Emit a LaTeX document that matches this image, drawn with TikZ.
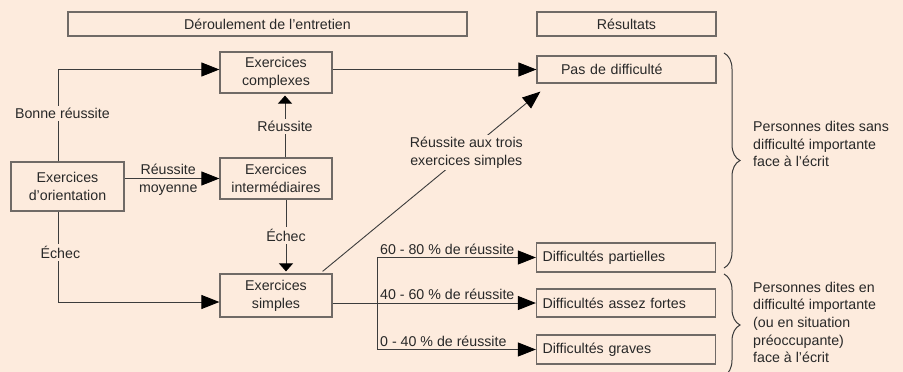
\documentclass[tikz,border=0pt]{standalone}
\usepackage{fontspec}
\setmainfont{Liberation Sans}
\usetikzlibrary{arrows.meta,calc,decorations.pathreplacing}
\definecolor{bgpeach}{RGB}{253,235,221}
\definecolor{boxgray}{RGB}{112,106,102}
\definecolor{linegray}{RGB}{60,60,60}
\definecolor{txtgray}{RGB}{40,40,40}
\newcommand{\diagfont}{\fontsize{14.2pt}{17.7pt}\selectfont}
\tikzset{
  every node/.style={font=\diagfont, text=txtgray},
  hdr/.style={draw=boxgray, line width=1.2pt, minimum height=24pt, inner sep=0pt},
  exbox/.style={draw=boxgray, line width=1.2pt, minimum width=112pt, minimum height=41pt, align=center, inner sep=0pt},
  resbox/.style={draw=boxgray, line width=1.2pt, minimum height=28pt, text width=167pt, inner xsep=6pt, inner ysep=0pt, align=left},
  lbl/.style={fill=bgpeach, inner sep=2pt},
  pct/.style={anchor=south west, inner sep=3pt},
  side/.style={anchor=west, align=left, inner sep=0pt},
  arr/.style={draw=linegray, line width=0.9pt, -{Triangle[length=18pt,width=14pt,color=black]}},
  arrshort/.style={draw=linegray, line width=0.9pt, -{Triangle[length=8pt,width=14pt,color=black]}},
  brc/.style={draw=linegray, line width=1pt, decorate, decoration={brace, amplitude=16pt}}
}
\begin{document}
\begin{tikzpicture}[x=1pt, y=-1pt]
  \fill[bgpeach] (0,0) rectangle (903,372);
  \useasboundingbox (0,0) rectangle (903,372);

  % headers
  \node[hdr, minimum width=399pt] (deroul) at (267.5,24) {Déroulement de l'entretien};
  \node[hdr, minimum width=179pt] (result) at (626.5,24) {Résultats};

  % exercises
  \node[exbox] (complexes) at (276,72.5) {Exercices\\complexes};
  \node[exbox] (inter) at (276,178.5) {Exercices\\intermédiaires};
  \node[exbox, minimum width=113pt, minimum height=49pt] (orient) at (67.5,186.5) {Exercices\\d'orientation};
  \node[exbox, minimum height=43pt] (simples) at (276,295.5) {Exercices\\simples};

  % results
  \node[resbox, minimum height=27pt] (pas) at (626.5,69.5) {\hspace*{18pt}Pas de difficulté};
  \node[resbox, minimum height=29pt] (partiel) at (626,257.5) {Difficultés partielles};
  \node[resbox] (assez) at (626,303) {Difficultés assez fortes};
  \node[resbox, minimum height=29pt] (graves) at (626,349.5) {Difficultés graves};

  % from the orientation exercises
  \draw[arr] ($(orient.north west)+(48,0)$) |- node[lbl, pos=0.26, xshift=4pt] {Bonne réussite} ($(complexes.west)+(0,-3)$);
  \draw[arr] (orient.east |- inter.west) -- node[above, pos=0.46] {Réussite} node[below=3pt, pos=0.46] {moyenne} (inter.west);
  \draw[arr] ($(orient.south west)+(48,0)$) |- node[lbl, pos=0.225, xshift=2pt] {Échec} ($(simples.west)+(0,6.5)$);

  % up and down from the intermediate exercises
  \draw[arrshort] ($(inter.north)+(9,0)$) -- node[lbl] {Réussite} ($(complexes.south)+(9,2)$);
  \draw[arrshort] ($(inter.south)+(10,0)$) -- node[lbl] {Échec} ($(simples.north)+(10,-2)$);

  % to the results
  \draw[arr] (complexes.east |- pas.west) -- (pas.west);
  \draw[arr] ($(simples.north east)+(-10,-2)$) -- node[lbl, pos=0.66, align=center] {Réussite aux trois\\exercices simples} ($(pas.south west)+(4,8)$);

  \coordinate (fork) at (377,0);
  \draw[draw=linegray, line width=0.9pt] (simples.east |- assez.west) -- (fork |- assez.west);
  \draw[draw=linegray, line width=0.9pt] (fork |- partiel.west) -- (fork |- graves.west);
  \draw[arr] (fork |- partiel.west) -- (partiel.west);
  \draw[arr] (fork |- assez.west) -- (assez.west);
  \draw[arr] (fork |- graves.west) -- (graves.west);
  \node[pct] (p60) at (fork |- partiel.west) {60 - 80 \% de réussite};
  \node[pct] (p40) at (fork |- assez.west) {40 - 60 \% de réussite};
  \node[pct] (p0) at (fork |- graves.west) {0 - 40 \% de réussite};

  % braces
  \draw[brc] (724,53) -- (724,268);
  \draw[brc] (724,274) -- (724,376);
  \node[side] (sans) at (753,144) {Personnes dites sans\\difficulté importante\\face à l'écrit};
  \node[side] (avec) at (753,322.5) {Personnes dites en\\difficulté importante\\(ou en situation\\préoccupante)\\face à l'écrit};
\end{tikzpicture}
\end{document}
